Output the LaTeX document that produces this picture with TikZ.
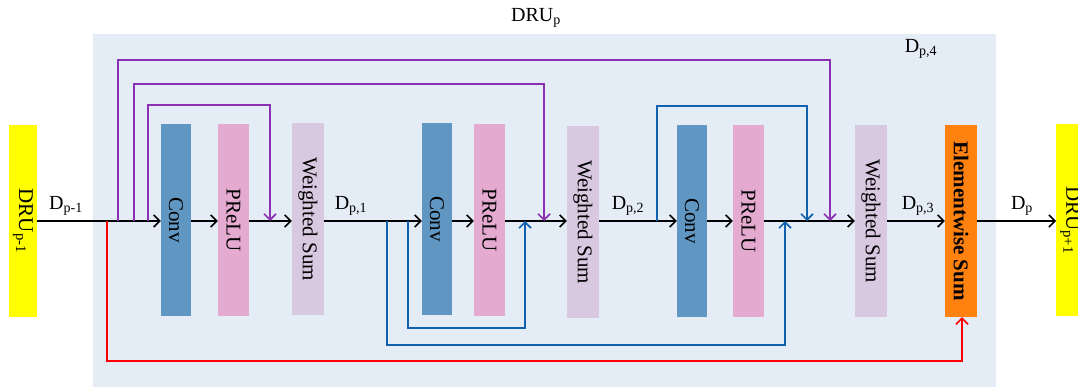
\documentclass[tikz,border=0pt]{standalone}
\usepackage{fontspec}
\setmainfont{Liberation Serif}
\usetikzlibrary{arrows.meta}
\definecolor{bgc}{HTML}{E4ECF6}
\definecolor{convc}{HTML}{6096C2}
\definecolor{reluc}{HTML}{E4AACF}
\definecolor{wsc}{HTML}{D8C8E0}
\definecolor{esc}{HTML}{FF8210}
\definecolor{yel}{HTML}{FFFF00}
\definecolor{purp}{HTML}{8A30B0}
\definecolor{blu}{HTML}{1062B0}
\definecolor{redc}{HTML}{FF0000}
\tikzset{
  x=1pt,y=-1pt,
  blk/.style={rectangle,inner sep=0pt,minimum height=192pt,font=\fontsize{21}{24}\selectfont},
  convbox/.style={blk,fill=convc,minimum width=30pt},
  relubox/.style={blk,fill=reluc,minimum width=31pt},
  wsbox/.style={blk,fill=wsc,minimum width=32pt},
  esbox/.style={blk,fill=esc,minimum width=32pt,font=\fontsize{21}{24}\selectfont\bfseries},
  drubox/.style={blk,fill=yel,minimum width=28pt},
  lbl/.style={inner sep=0pt,font=\fontsize{20}{24}\selectfont},
  tip/.style={-{Straight Barb[length=6pt,width=12pt,line width=1.6pt]}},
  arr/.style={tip,line width=1.6pt,black},
  parr/.style={tip,line width=1.6pt,purp},
  barr/.style={tip,line width=1.6pt,blu},
  rarr/.style={tip,line width=1.6pt,redc},
}
\begin{document}
\begin{tikzpicture}
\useasboundingbox (0,0) rectangle (1078,387);
\clip (0,0) rectangle (1078,387);
\fill[bgc] (93,34) rectangle (996,387);
\node[lbl] (title) at (536,18) {DRU\textsubscript{p}};
\node[lbl] (d4) at (921,49) {D\textsubscript{p,4}};

\node[drubox] (dl) at (23,221) {\rotatebox{-90}{DRU\textsubscript{p-1}}};
\node[convbox] (c1) at (176,220) {\rotatebox{-90}{Conv}};
\node[relubox] (r1) at (233.5,220) {\rotatebox{-90}{PReLU}};
\node[wsbox] (w1) at (308,219) {\rotatebox{-90}{Weighted Sum}};
\node[convbox] (c2) at (437,219) {\rotatebox{-90}{Conv}};
\node[relubox] (r2) at (489.5,220) {\rotatebox{-90}{PReLU}};
\node[wsbox] (w2) at (583,222) {\rotatebox{-90}{Weighted Sum}};
\node[convbox] (c3) at (692,221) {\rotatebox{-90}{Conv}};
\node[relubox] (r3) at (748.5,221) {\rotatebox{-90}{PReLU}};
\node[wsbox] (w3) at (871,221) {\rotatebox{-90}{Weighted Sum}};
\node[esbox] (es) at (961,221) {\rotatebox{-90}{Elementwise Sum}};
\node[drubox,anchor=west] (dr) at (1056,220) {\rotatebox{-90}{DRU\textsubscript{p+1}}};

% main line
\draw[arr] (dl.east |- 0,221) -- (c1.west |- 0,221);
\draw[arr] (c1.east |- 0,221) -- (r1.west |- 0,221);
\draw[arr] (r1.east |- 0,221) -- (w1.west |- 0,221);
\draw[arr] (w1.east |- 0,221) -- (c2.west |- 0,221);
\draw[arr] (c2.east |- 0,221) -- (r2.west |- 0,221);
\draw[arr] (r2.east |- 0,221) -- (w2.west |- 0,221);
\draw[arr] (w2.east |- 0,221) -- (c3.west |- 0,221);
\draw[arr] (c3.east |- 0,221) -- (r3.west |- 0,221);
\draw[arr] (r3.east |- 0,221) -- (w3.west |- 0,221);
\draw[arr] (w3.east |- 0,221) -- (es.west |- 0,221);
\draw[arr] (es.east |- 0,221) -- (dr.west |- 0,221);

\node[lbl] (l0) at (66,206) {D\textsubscript{p-1}};
\node[lbl] (l1) at (351,206) {D\textsubscript{p,1}};
\node[lbl] (l2) at (628,206) {D\textsubscript{p,2}};
\node[lbl] (l3) at (918,206) {D\textsubscript{p,3}};
\node[lbl] (l4) at (1022,206) {D\textsubscript{p}};

% branch coordinates
\coordinate (pa) at (118,221);
\coordinate (pb) at (134,221);
\coordinate (pc) at (148,221);
\coordinate (pa2) at (830,221);
\coordinate (pb2) at (544,221);
\coordinate (pc2) at (270,221);
\coordinate (rs) at (107,221);
\coordinate (ba) at (387,221);
\coordinate (ba2) at (785,221);
\coordinate (bb) at (408,221);
\coordinate (bb2) at (525,221);
\coordinate (bc) at (657,221);
\coordinate (bc2) at (807,221);

% purple skips
\draw[parr] (pa) |- (830,60) -- (pa2);
\draw[parr] (pb) |- (544,84) -- (pb2);
\draw[parr] (pc) |- (270,105) -- (pc2);

% blue skips
\draw[barr] (ba) |- (785,345) -- (ba2);
\draw[barr] (bb) |- (525,328) -- (bb2);
\draw[barr] (bc) |- (807,106) -- (bc2);

% red skip
\draw[rarr] (rs) |- (962,361) -- (es.south -| 962,0);
\end{tikzpicture}
\end{document}
